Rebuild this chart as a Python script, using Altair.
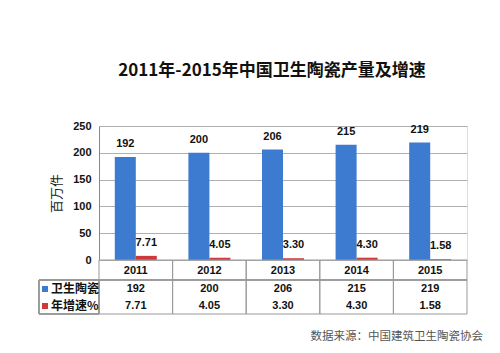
import altair as alt
import pandas as pd

years = ["2011", "2012", "2013", "2014", "2015"]
production = [192, 200, 206, 215, 219]
growth = [7.71, 4.05, 3.30, 4.30, 1.58]
series_names = ["卫生陶瓷", "年增速%"]
colors = ["#3C7BD0", "#CC3A3C"]
title_text = "2011年-2015年中国卫生陶瓷产量及增速"
y_title = "百万件"
y_ticks = [0, 50, 100, 150, 200, 250]
source_text = "数据来源：中国建筑卫生陶瓷协会"

W, H = 368, 134
FONT = "Noto Sans CJK SC"

rows = []
for y, p, g in zip(years, production, growth):
    rows.append({"year": y, "series": series_names[0], "value": p, "label": f"{p}"})
    rows.append({"year": y, "series": series_names[1], "value": g, "label": f"{g:.2f}"})
df = pd.DataFrame(rows)
ydf = pd.DataFrame({"year": years})

xs = alt.Scale(domain=years, paddingInner=0, paddingOuter=0)
xo = alt.Scale(domain=series_names, paddingInner=0, paddingOuter=0.752)
ys = alt.Scale(domain=[0, 250])
cs = alt.Scale(domain=series_names, range=colors)

y_axis = alt.Axis(values=y_ticks, title=y_title,
                  titleFont=FONT, titleFontSize=13, titleFontWeight="normal",
                  titleColor="#222", titlePadding=9,
                  labelFont="Liberation Sans", labelFontWeight="bold",
                  labelFontSize=11, labelColor="#111", labelPadding=8,
                  labelOverlap=False,
                  ticks=False, domainColor="#888", gridColor="#b0b0b0")

base = alt.Chart(df)

bars = base.mark_bar().encode(
    x=alt.X("year:N", scale=xs, axis=None),
    xOffset=alt.XOffset("series:N", scale=xo),
    y=alt.Y("value:Q", scale=ys, axis=y_axis),
    color=alt.Color("series:N", scale=cs, legend=None),
)

bar_labels = base.mark_text(dy=-8, font="Liberation Sans", fontWeight="bold",
                            fontSize=11, color="#111", baseline="bottom").encode(
    x=alt.X("year:N", scale=xs, axis=None),
    xOffset=alt.XOffset("series:N", scale=xo),
    y=alt.Y("value:Q", scale=ys, axis=y_axis),
    text="label:N",
)

# table cells
cells = alt.Chart(ydf).mark_rect(fill=None, stroke="#999", strokeWidth=1).encode(
    x=alt.X("year:N", scale=xs, axis=None),
    y=alt.value(H),
    y2=alt.value(H + 54),
)
row_line = alt.Chart(ydf).mark_rule(color="#999").encode(
    x=alt.value(-60), x2=alt.value(W), y=alt.value(H + 20)
)
legend_box = alt.Chart(ydf).mark_rect(fill=None, stroke="#999").encode(
    x=alt.value(-60), x2=alt.value(0), y=alt.value(H + 20), y2=alt.value(H + 54)
)

txt_style = dict(font="Liberation Sans", fontWeight="bold", fontSize=11, color="#111")
year_text = alt.Chart(ydf).mark_text(**txt_style).encode(
    x=alt.X("year:N", scale=xs, axis=None), y=alt.value(H + 11), text="year:N"
)
prod_text = base.transform_filter(alt.datum.series == series_names[0]).mark_text(
    **txt_style).encode(
    x=alt.X("year:N", scale=xs, axis=None), y=alt.value(H + 29), text="label:N"
)
growth_text = base.transform_filter(alt.datum.series == series_names[1]).mark_text(
    **txt_style).encode(
    x=alt.X("year:N", scale=xs, axis=None), y=alt.value(H + 46), text="label:N"
)

legend_layers = []
for i, (name, col) in enumerate(zip(series_names, colors)):
    ypix = H + 29 + 17 * i
    ldf = pd.DataFrame({"series": [name]})
    legend_layers.append(
        alt.Chart(ldf).mark_square(size=36, opacity=1, color=col).encode(
            x=alt.value(-54), y=alt.value(ypix))
    )
    legend_layers.append(
        alt.Chart(ldf).mark_text(align="left", font=FONT, fontWeight="bold",
                                 fontSize=12, color="#111").encode(
            x=alt.value(-48), y=alt.value(ypix), text="series:N")
    )

src = alt.Chart(ydf.head(1)).mark_text(align="right", font=FONT, fontSize=11.5,
                                       color="#555").encode(
    x=alt.value(W + 16), y=alt.value(H + 77), text=alt.value(source_text)
)

chart = alt.layer(bars, bar_labels, cells, row_line, legend_box, year_text,
                  prod_text, growth_text, *legend_layers, src).properties(
    width=W, height=H,
    title=alt.TitleParams(title_text, font=FONT, fontSize=17, fontWeight="bold",
                          color="#111", anchor="middle", dx=-11, offset=40),
    autosize="none",
    padding={"left": 99, "top": 126, "right": 33, "bottom": 93},
).configure_view(stroke=None).configure(background="white")

chart.save("out.html", embed_options={"renderer": "svg", "actions": False})
